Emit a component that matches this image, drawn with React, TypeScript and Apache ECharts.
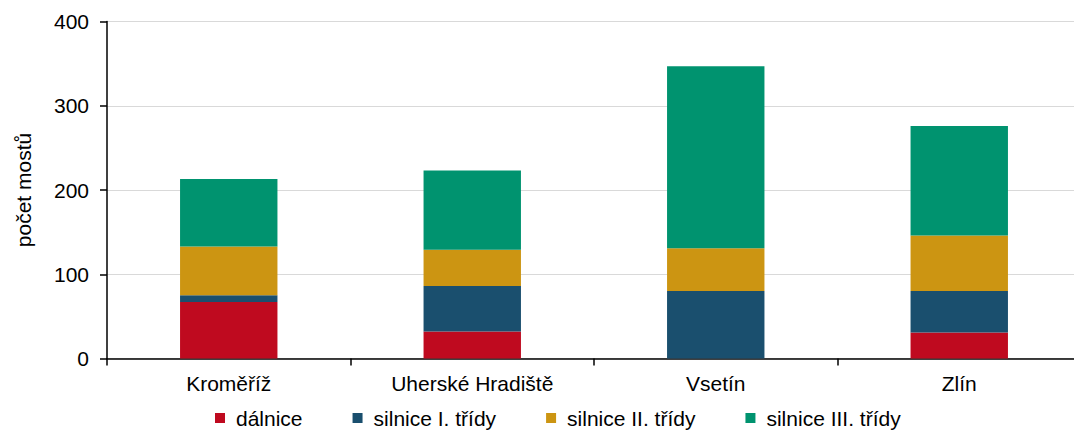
import React, { useEffect, useRef } from "react";
import * as echarts from "echarts";

const categories = ["Kroměříž", "Uherské Hradiště", "Vsetín", "Zlín"];
const seriesNames = ["dálnice", "silnice I. třídy", "silnice II. třídy", "silnice III. třídy"];
const dalnice = [67, 32, 0, 31];
const silniceI = [8, 54, 80, 49];
const silniceII = [58, 43, 51, 66];
const silniceIII = [80, 94, 216, 130];
const colors = ["#BF0A1F", "#1A4F6E", "#CC9512", "#00936F"];
const yTicks = [0, 100, 200, 300, 400];

export default function App() {
  const ref = useRef<HTMLDivElement>(null);
  useEffect(() => {
    if (!ref.current) return;
    const chart = echarts.init(ref.current, null, { renderer: "svg" });
    const values = [dalnice, silniceI, silniceII, silniceIII];
    const font = "Liberation Sans, Arial, sans-serif";
    chart.setOption({
      animation: false,
      textStyle: { fontFamily: font },
      grid: { left: 107, right: 0, top: 21.5, bottom: 71.5, containLabel: false },
      legend: {
        data: seriesNames,
        left: 215,
        top: 407,
        padding: 0,
        itemWidth: 10,
        itemHeight: 10,
        itemGap: 50,
        icon: "rect",
        textStyle: { fontSize: 21, color: "#000", fontFamily: font, padding: [0, 0, 0, 6], lineHeight: 22 },
      },
      xAxis: {
        type: "category",
        data: categories,
        axisLine: { lineStyle: { color: "#000", width: 1.5 } },
        axisTick: { show: true, length: 7, lineStyle: { color: "#000", width: 1.5 }, alignWithLabel: false },
        axisLabel: { fontSize: 21, color: "#000", margin: 14, fontFamily: font },
      },
      yAxis: {
        type: "value",
        min: yTicks[0],
        max: yTicks[yTicks.length - 1],
        interval: 100,
        name: "počet mostů",
        nameLocation: "middle",
        nameGap: 73,
        nameTextStyle: { fontSize: 21, color: "#000", fontFamily: font },
        axisLine: { show: true, lineStyle: { color: "#000", width: 1.5 } },
        axisTick: { show: true, length: 7, lineStyle: { color: "#000", width: 1.5 } },
        axisLabel: { fontSize: 21, color: "#000", margin: 18, fontFamily: font },
        splitLine: { lineStyle: { color: "#D9D9D9", width: 1 } },
      },
      series: seriesNames.map((name, i) => ({
        name,
        type: "bar",
        stack: "total",
        barWidth: "40%",
        data: values[i],
        itemStyle: { color: colors[i] },
      })),
    });
    return () => chart.dispose();
  }, []);
  return (
    <div style={{ position: "fixed", left: 0, top: 0, width: 1074, height: 430, overflow: "hidden", background: "#fff" }}>
      <div ref={ref} style={{ width: 1081, height: 430 }} />
    </div>
  );
}
